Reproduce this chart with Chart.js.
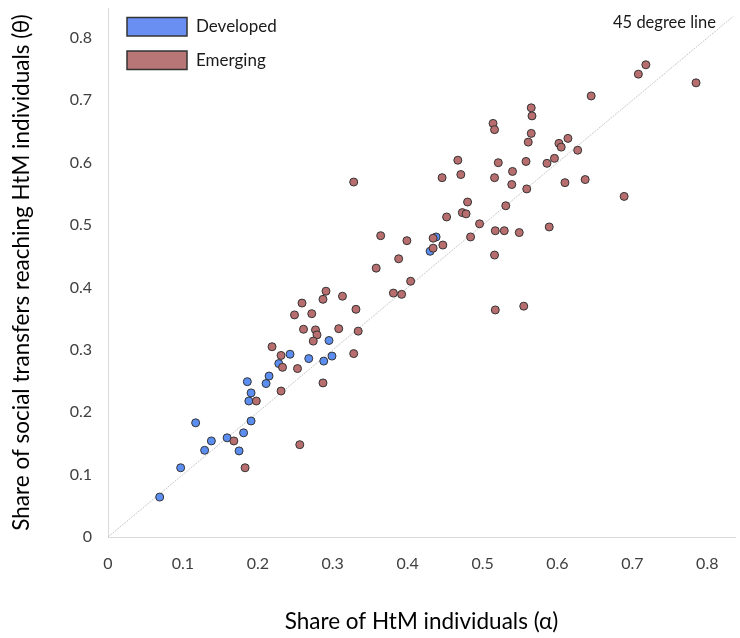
<!DOCTYPE html>
<html><head><meta charset="utf-8">
<script src="https://cdn.jsdelivr.net/npm/chart.js@4.4.0/dist/chart.umd.min.js"></script>
<style>html,body{margin:0;padding:0;background:#fff}canvas{display:block}</style>
</head><body>
<canvas id="c" width="740" height="638"></canvas>
<script>
const seriesNames = ['Developed', 'Emerging'];
const developedX = [0.069,0.097,0.117,0.129,0.138,0.159,0.175,0.181,0.191,0.188,0.191,0.186,0.211,0.215,0.228,0.243,0.268,0.288,0.299,0.295,0.438,0.430];
const developedY = [0.064,0.111,0.183,0.139,0.154,0.159,0.138,0.167,0.186,0.218,0.231,0.249,0.246,0.258,0.278,0.293,0.286,0.282,0.290,0.315,0.481,0.458];
const emergingX = [0.168,0.183,0.198,0.233,0.231,0.256,0.219,0.231,0.253,0.261,0.249,0.259,0.272,0.277,0.279,0.274,0.287,0.291,0.313,0.308,0.331,0.334,0.328,0.287,0.358,0.328,0.364,0.399,0.388,0.404,0.381,0.392,0.434,0.447,0.434,0.452,0.473,0.478,0.480,0.496,0.484,0.517,0.529,0.531,0.516,0.517,0.549,0.589,0.555,0.446,0.467,0.471,0.516,0.521,0.539,0.540,0.558,0.559,0.561,0.565,0.565,0.566,0.514,0.516,0.586,0.596,0.602,0.605,0.614,0.627,0.610,0.637,0.689,0.645,0.708,0.718,0.785];
const emergingY = [0.154,0.111,0.218,0.272,0.234,0.148,0.305,0.291,0.270,0.333,0.356,0.375,0.358,0.332,0.324,0.314,0.381,0.394,0.386,0.334,0.365,0.330,0.294,0.247,0.431,0.569,0.483,0.475,0.446,0.410,0.391,0.389,0.479,0.468,0.463,0.513,0.520,0.518,0.537,0.502,0.481,0.491,0.491,0.531,0.452,0.364,0.488,0.497,0.370,0.576,0.604,0.581,0.576,0.600,0.565,0.586,0.602,0.558,0.633,0.647,0.688,0.675,0.663,0.653,0.599,0.607,0.631,0.625,0.639,0.620,0.568,0.573,0.546,0.707,0.742,0.757,0.728];
const diagonalX = [0, 0.835];
const diagonalY = [0, 0.835];
const tickValues = [0, 0.1, 0.2, 0.3, 0.4, 0.5, 0.6, 0.7, 0.8];
const tickLabels = ['0', '0.1', '0.2', '0.3', '0.4', '0.5', '0.6', '0.7', '0.8'];
const xTitle = 'Share of HtM individuals (\u03b1)';
const yTitle = 'Share of social transfers reaching HtM individuals (\u03b8)';
const lineLabel = '45 degree line';

const FONT = 'Lato';
const pts = (xs, ys) => xs.map((x, i) => ({x: x, y: ys[i]}));
const tickCb = function (v) { const i = tickValues.findIndex(t => Math.abs(t - v) < 1e-9); return i >= 0 ? tickLabels[i] : ''; };
const setTicks = s => { s.ticks = tickValues.map(v => ({value: v})); };
const noPad = s => { s.paddingTop = 0; s.paddingBottom = 0; s.paddingLeft = 0; s.paddingRight = 0; };

const legendPlugin = {
  id: 'customLegend',
  afterDraw(chart) {
    const ctx = chart.ctx;
    ctx.save();
    [0, 1].forEach(i => {
      const ds = chart.data.datasets[i];
      const y0 = 17.5 + i * 33.5;
      ctx.fillStyle = ds.legendFill;
      ctx.fillRect(127, y0, 60, 18.5);
      ctx.strokeStyle = '#333333';
      ctx.lineWidth = 1.5;
      ctx.strokeRect(127, y0, 60, 18.5);
      ctx.fillStyle = '#1a1a1a';
      ctx.font = '17px ' + FONT;
      ctx.textBaseline = 'middle';
      ctx.textAlign = 'left';
      ctx.fillText(ds.label, 196, y0 + 9.5);
    });
    const ca = chart.chartArea;
    ctx.font = '16.5px ' + FONT;
    ctx.textAlign = 'right';
    ctx.fillStyle = '#1a1a1a';
    ctx.fillText(chart.data.datasets[2].label, ca.right - 19, 23);
    ctx.restore();
  }
};

new Chart(document.getElementById('c'), {
  type: 'scatter',
  data: {
    datasets: [
      {label: seriesNames[0], data: pts(developedX, developedY), backgroundColor: '#5b8ef0', borderColor: '#333333', borderWidth: 1, pointRadius: 4, pointHoverRadius: 4, order: 1, legendFill: '#6a8ff2'},
      {label: seriesNames[1], data: pts(emergingX, emergingY), backgroundColor: '#b86e6e', borderColor: '#333333', borderWidth: 1, pointRadius: 4, pointHoverRadius: 4, order: 0, legendFill: '#b97676'},
      {label: lineLabel, type: 'line', data: pts(diagonalX, diagonalY), borderColor: '#c8c8c8', borderWidth: 1, borderDash: [2, 1], pointRadius: 0, fill: false, order: 2}
    ]
  },
  options: {
    responsive: false,
    animation: false,
    devicePixelRatio: 1,
    layout: {padding: {top: 8, right: 0, left: 0, bottom: 0}},
    plugins: {legend: {display: false}, tooltip: {enabled: false}},
    scales: {
      x: {
        type: 'linear', min: 0, max: 0.837,
        afterBuildTicks: setTicks,
        afterFit: s => { s.height = 101; noPad(s); },
        grid: {display: false, drawTicks: false},
        border: {display: true, color: '#d9d9d9', width: 1},
        ticks: {callback: tickCb, padding: 17, color: '#404040', font: {family: FONT, size: 16}, maxRotation: 0, autoSkip: false},
        title: {display: true, text: xTitle, color: '#000', font: {family: FONT, size: 22.5}, padding: {top: 0, bottom: 3}}
      },
      y: {
        type: 'linear', min: 0, max: 0.848,
        afterBuildTicks: setTicks,
        afterFit: s => { s.width = 108; noPad(s); },
        grid: {display: false, drawTicks: false},
        border: {display: true, color: '#d9d9d9', width: 1},
        ticks: {callback: tickCb, padding: 16, color: '#404040', font: {family: FONT, size: 16}, autoSkip: false},
        title: {display: true, text: yTitle, color: '#000', font: {family: FONT, size: 22.5}, padding: {top: 8, bottom: 0}}
      }
    }
  },
  plugins: [legendPlugin]
});
</script>
</body></html>
